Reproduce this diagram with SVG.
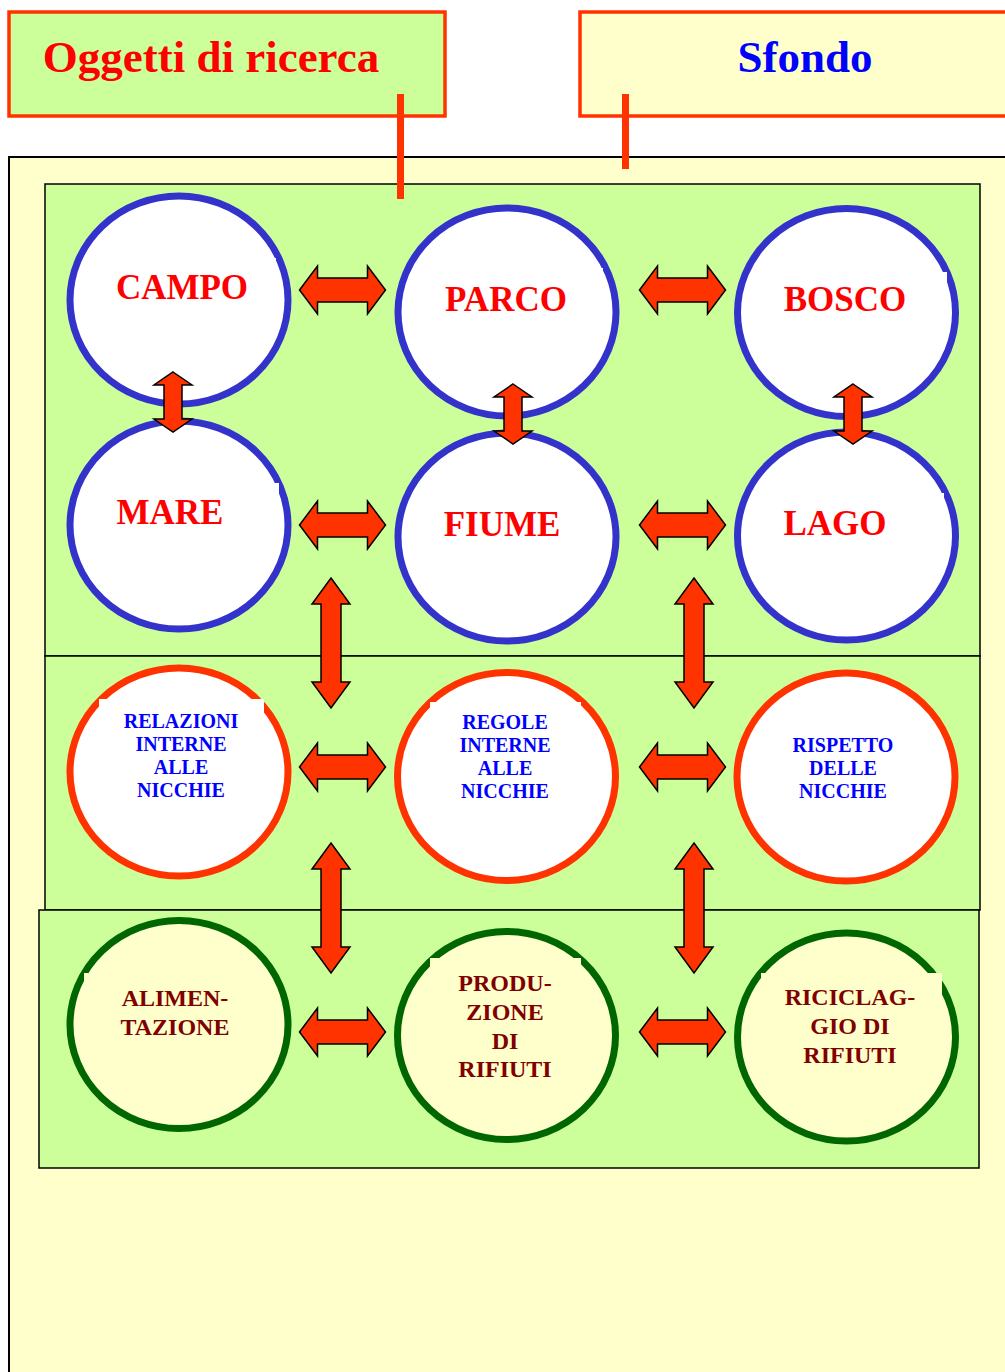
<svg xmlns="http://www.w3.org/2000/svg" width="1005" height="1372" viewBox="0 0 1005 1372">
<style>
.t{font-family:"Liberation Serif","Times New Roman",serif;font-weight:bold;text-anchor:middle}
.big{font-size:35px;fill:#FF0000}
.mid{font-size:20px;fill:#0000FF}
.sm{font-size:24px;fill:#800000}
.band{fill:#CCFF99;stroke:#000;stroke-width:1.5}
.cb{fill:#FFFFFF;stroke:#3333CC;stroke-width:7}
.cr{fill:#FFFFFF;stroke:#FF3300;stroke-width:7}
.cg{fill:#FFFFCC;stroke:#006600;stroke-width:7}
.arr{fill:#FF3300;stroke:#000;stroke-width:1.5;stroke-linejoin:miter}
.link{stroke:#FF3300;stroke-width:7}
</style>
<defs>
<path id="h" class="arr" d="M-43,0 L-25,-24 L-25,-12 L25,-12 L25,-24 L43,0 L25,24 L25,12 L-25,12 L-25,24 Z"/>
<path id="vs" class="arr" d="M0,-30 L19,-17 L9,-17 L9,17 L19,17 L0,30 L-19,17 L-9,17 L-9,-17 L-19,-17 Z"/>
<path id="vl" class="arr" d="M0,-65 L19,-39 L10,-39 L10,39 L19,39 L0,65 L-19,39 L-10,39 L-10,-39 L-19,-39 Z"/>
</defs>
<rect width="1005" height="1372" fill="#FFFFFF"/>
<g id="header-oggetti">
<rect x="9" y="12" width="436" height="104" fill="#CCFF99" stroke="#FF3300" stroke-width="3.5"/>
<text class="t" x="211" y="72" font-size="45" fill="#FF0000">Oggetti di ricerca</text>
</g>
<g id="header-sfondo">
<rect x="580" y="12" width="440" height="104" fill="#FFFFCC" stroke="#FF3300" stroke-width="3.5"/>
<text class="t" x="805" y="72" font-size="45" fill="#0000FF">Sfondo</text>
</g>
<g id="background">
<rect x="9" y="157" width="1010" height="1230" fill="#FFFFCC" stroke="#000" stroke-width="2"/>
<rect class="band" x="45" y="184" width="935" height="472"/>
<rect class="band" x="45" y="656" width="935" height="254"/>
<rect class="band" x="39" y="910" width="940" height="258"/>
</g>
<g id="header-links">
<line class="link" x1="400.5" y1="94" x2="400.5" y2="199"/>
<line class="link" x1="625.5" y1="94" x2="625.5" y2="169"/>
</g>
<g id="campo"><ellipse class="cb" cx="179" cy="300" rx="109" ry="104"/><rect x="120" y="258" width="156" height="30" fill="#FFFFFF"/><text class="t big" x="182" y="299">CAMPO</text></g>
<g id="parco"><ellipse class="cb" cx="507" cy="312" rx="109" ry="104"/><rect x="450" y="268" width="153" height="30" fill="#FFFFFF"/><text class="t big" x="506" y="311">PARCO</text></g>
<g id="bosco"><ellipse class="cb" cx="846.5" cy="312.5" rx="109" ry="104"/><rect x="790" y="272" width="157" height="30" fill="#FFFFFF"/><text class="t big" x="845" y="311">BOSCO</text></g>
<g id="mare"><ellipse class="cb" cx="179" cy="525" rx="109" ry="104"/><rect x="120" y="483" width="159" height="30" fill="#FFFFFF"/><text class="t big" x="170" y="524">MARE</text></g>
<g id="fiume"><ellipse class="cb" cx="507" cy="537" rx="109" ry="104"/><text class="t big" x="502" y="536">FIUME</text></g>
<g id="lago"><ellipse class="cb" cx="846.5" cy="536" rx="109" ry="104"/><rect x="790" y="493" width="154" height="30" fill="#FFFFFF"/><text class="t big" x="835" y="535">LAGO</text></g>
<g id="relazioni"><ellipse class="cr" cx="179" cy="772" rx="109" ry="104"/><rect x="99" y="699" width="165" height="40" fill="#FFFFFF"/><text class="t mid" x="181"><tspan x="181" y="728">RELAZIONI</tspan><tspan x="181" y="751">INTERNE</tspan><tspan x="181" y="774">ALLE</tspan><tspan x="181" y="797">NICCHIE</tspan></text></g>
<g id="regole"><ellipse class="cr" cx="506.5" cy="776.5" rx="109" ry="104"/><rect x="430" y="702" width="151" height="40" fill="#FFFFFF"/><text class="t mid" x="505"><tspan x="505" y="729">REGOLE</tspan><tspan x="505" y="752">INTERNE</tspan><tspan x="505" y="775">ALLE</tspan><tspan x="505" y="798">NICCHIE</tspan></text></g>
<g id="rispetto"><ellipse class="cr" cx="846" cy="777" rx="109" ry="104"/><text class="t mid" x="843"><tspan x="843" y="752">RISPETTO</tspan><tspan x="843" y="775">DELLE</tspan><tspan x="843" y="798">NICCHIE</tspan></text></g>
<g id="alimentazione"><ellipse class="cg" cx="179" cy="1024.5" rx="109" ry="104"/><rect x="84" y="973" width="150" height="40" fill="#FFFFCC"/><text class="t sm" x="175"><tspan x="175" y="1006">ALIMEN-</tspan><tspan x="175" y="1035">TAZIONE</tspan></text></g>
<g id="produzione"><ellipse class="cg" cx="506.5" cy="1035.5" rx="109" ry="104"/><rect x="430" y="958" width="151" height="40" fill="#FFFFCC"/><text class="t sm" x="505"><tspan x="505" y="991">PRODU-</tspan><tspan x="505" y="1020">ZIONE</tspan><tspan x="505" y="1049">DI</tspan><tspan x="505" y="1077">RIFIUTI</tspan></text></g>
<g id="riciclaggio"><ellipse class="cg" cx="846.5" cy="1037" rx="109" ry="104"/><rect x="761" y="973" width="181" height="40" fill="#FFFFCC"/><text class="t sm" x="850"><tspan x="850" y="1005">RICICLAG-</tspan><tspan x="850" y="1034">GIO DI</tspan><tspan x="850" y="1063">RIFIUTI</tspan></text></g>
<g id="connectors">
<use href="#h" x="342.5" y="290"/>
<use href="#h" x="682.5" y="290"/>
<use href="#h" x="342.5" y="525"/>
<use href="#h" x="682.5" y="525"/>
<use href="#h" x="342.5" y="767"/>
<use href="#h" x="682.5" y="767"/>
<use href="#h" x="342.5" y="1032"/>
<use href="#h" x="682.5" y="1032"/>
<use href="#vs" x="173" y="402"/>
<use href="#vs" x="513" y="414"/>
<use href="#vs" x="853" y="414"/>
<use href="#vl" x="331" y="643"/>
<use href="#vl" x="694" y="643"/>
<use href="#vl" x="331" y="908"/>
<use href="#vl" x="694" y="908"/>
</g>
</svg>
